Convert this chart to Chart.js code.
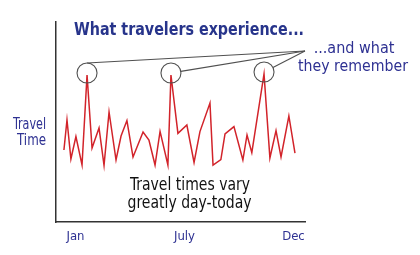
<!DOCTYPE html>
<html><head><meta charset="utf-8">
<script src="https://cdn.jsdelivr.net/npm/chart.js@4"></script>
<style>html,body{margin:0;padding:0;background:#fff}#c{display:block}</style>
</head><body>
<canvas id="c" width="420" height="255"></canvas>
<script>
// ---- data ----
const xTickLabels = ['Jan', 'July', 'Dec'];
const xTickValues = [0, 50, 100];
const dayX = [-5.3, -3.9, -2.1, 0.2, 3.0, 5.3, 7.6, 10.8, 13.1, 15.4, 18.6, 20.9, 23.6, 26.4, 31.0, 33.7, 36.5, 38.8, 42.4, 43.8, 47.0, 51.1, 54.4, 57.1, 61.7, 63.1, 66.7, 68.6, 72.7, 76.8, 78.7, 80.9, 86.5, 89.2, 92.0, 94.3, 97.9, 100.7];
const travelTime = [36, 51, 31.5, 42.7, 28.5, 73.5, 37, 47, 28.3, 55, 31, 43, 50.7, 32.5, 45, 41, 28.5, 45.3, 28.5, 73.5, 44.3, 48.5, 29.8, 45.2, 59.5, 28.5, 31.2, 44, 47.7, 31, 43.5, 34.7, 74, 32, 45.7, 32.5, 53, 34.4];
const rememberedPeaks = [5, 19, 32];
const titleText = 'What travelers experience...';
const rememberText = ['...and what', 'they remember'];
const yAxisText = ['Travel', 'Time'];
const noteText = ['Travel times vary', 'greatly day-today'];

const points = dayX.map((x, i) => ({ x, y: travelTime[i] }));
const FONT = "Tahoma, 'DejaVu Sans Condensed', 'DejaVu Sans', sans-serif";
const BLUE = '#2e3192';
const NAVY = '#27348b';

function txt(ctx, s, x, y, font, color, align, maxW) {
  ctx.font = font; ctx.fillStyle = color; ctx.textAlign = align; ctx.textBaseline = 'alphabetic';
  const w = ctx.measureText(s).width;
  if (maxW && w > maxW) ctx.fillText(s, x, y, maxW); else ctx.fillText(s, x, y);
}

const annot = {
  id: 'annot',
  afterDraw(chart) {
    const { ctx, scales: { x, y } } = chart;
    ctx.save();
    // texts
    txt(ctx, titleText, 74, 35, "bold 17px " + FONT, NAVY, 'left', 230);
    txt(ctx, rememberText[0], 354, 52.5, "16px " + FONT, BLUE, 'center', 82);
    txt(ctx, rememberText[1], 353, 71, "16px " + FONT, BLUE, 'center', 110);
    txt(ctx, yAxisText[0], 46, 129, "16px " + FONT, BLUE, 'right', 33);
    txt(ctx, yAxisText[1], 46, 144.5, "16px " + FONT, BLUE, 'right', 29);
    txt(ctx, noteText[0], 190, 190, "17px " + FONT, '#111', 'center', 120);
    txt(ctx, noteText[1], 189.5, 208, "17px " + FONT, '#111', 'center', 124);
    // circles + pointer lines
    const ax = 305, ay = 51, r = 10;
    ctx.strokeStyle = '#505050'; ctx.lineWidth = 1.1;
    rememberedPeaks.forEach((idx, k) => {
      const cx = x.getPixelForValue(dayX[idx]);
      const cy = y.getPixelForValue(travelTime[idx]) - 2;
      ctx.beginPath(); ctx.arc(cx, cy, r, 0, Math.PI * 2); ctx.stroke();
      const ang = k === 0 ? -Math.PI / 2 : Math.atan2(ay - cy, ax - cx);
      ctx.beginPath();
      ctx.moveTo(cx + r * Math.cos(ang), cy + r * Math.sin(ang));
      ctx.lineTo(ax, ay); ctx.stroke();
    });
    ctx.restore();
  }
};

new Chart(document.getElementById('c'), {
  type: 'line',
  data: { datasets: [{ data: points, borderColor: '#d2232a', borderWidth: 1.5, pointRadius: 0, tension: 0, fill: false }] },
  options: {
    responsive: false, animation: false,
    layout: { padding: { top: 22, right: 115, left: 0, bottom: 0 } },
    plugins: { legend: { display: false }, tooltip: { enabled: false }, title: { display: false } },
    scales: {
      x: {
        type: 'linear', min: -8.94, max: 105.3,
        afterFit: s => { s.height = 33; },
        afterBuildTicks: s => { s.ticks = xTickValues.map(v => ({ value: v })); },
        grid: { display: false, drawTicks: false },
        border: { display: true, color: '#333', width: 1.5 },
        ticks: { autoSkip: false, maxRotation: 0, padding: 7, color: BLUE, font: { family: FONT, size: 13 },
          callback: (v) => xTickLabels[xTickValues.indexOf(v)] }
      },
      y: {
        min: 0, max: 100,
        afterFit: s => { s.width = 56; },
        grid: { display: false, drawTicks: false },
        border: { display: true, color: '#333', width: 1.5 },
        ticks: { display: false }
      }
    }
  },
  plugins: [annot]
});
</script>
</body></html>
